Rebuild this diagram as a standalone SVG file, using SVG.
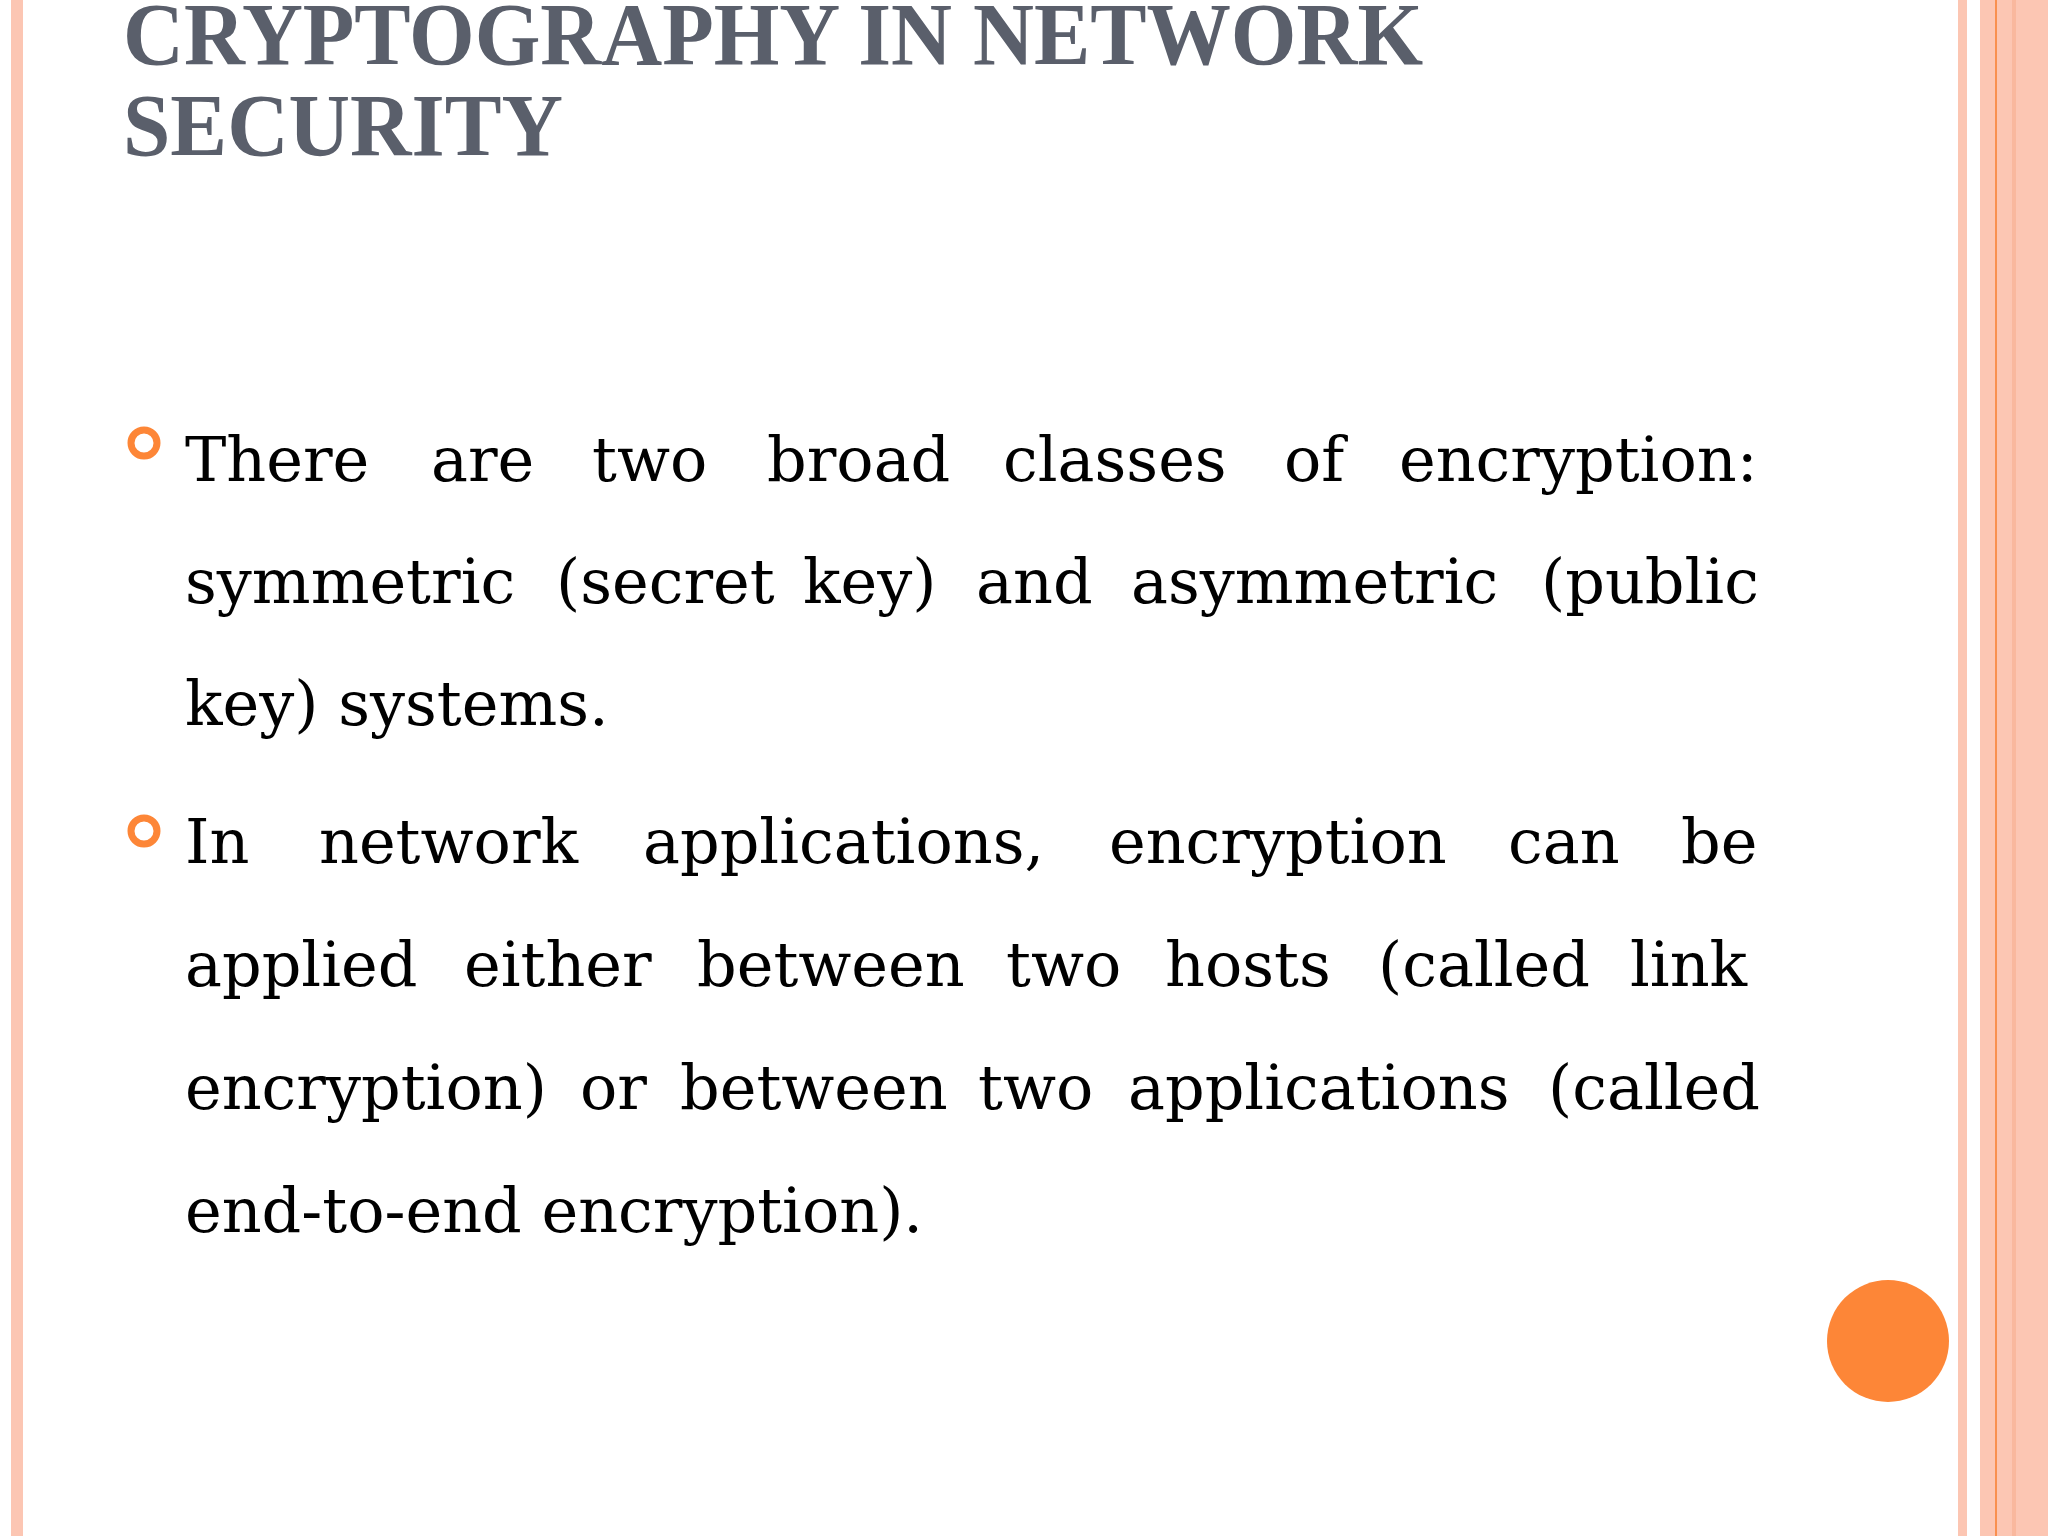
<svg xmlns="http://www.w3.org/2000/svg" width="2048" height="1536" viewBox="0 0 2048 1536">
<style>
.t{font-family:"Liberation Serif",serif;font-size:88px;font-weight:bold;fill:#5a5f6b}
.b{font-family:"DejaVu Serif",serif;font-size:62px;fill:#000}
.bul{fill:none;stroke:#fd8637;stroke-width:7}
</style>
<rect width="2048" height="1536" fill="#fff"/>
<rect x="11" y="0" width="12" height="1536" fill="#fcc6b3"/>
<rect x="1958" y="0" width="9" height="1536" fill="#fcc6b3"/>
<rect x="1980" y="0" width="68" height="1536" fill="#fcc6b3"/>
<rect x="2012" y="0" width="4" height="1536" fill="#f9b89e"/>
<rect x="1995" y="0" width="2" height="1536" fill="#f9904f"/>
<g id="title">
<text class="t" x="123" y="64" textLength="1300" lengthAdjust="spacingAndGlyphs">CRYPTOGRAPHY IN NETWORK</text>
<text class="t" x="123" y="155" textLength="440" lengthAdjust="spacingAndGlyphs">SECURITY</text>
</g>
<g id="bullet1">
<circle class="bul" cx="144" cy="443" r="13"/>
<text class="b" y="481"><tspan x="185">There</tspan><tspan x="431">are</tspan><tspan x="592">two</tspan><tspan x="767">broad</tspan><tspan x="1003">classes</tspan><tspan x="1284">of</tspan><tspan x="1399">encryption:</tspan></text>
<text class="b" y="603"><tspan x="185">symmetric</tspan><tspan x="556">(secret</tspan><tspan x="803">key)</tspan><tspan x="976">and</tspan><tspan x="1131">asymmetric</tspan><tspan x="1541">(public</tspan></text>
<text class="b" x="185" y="725">key) systems.</text>
</g>
<g id="bullet2">
<circle class="bul" cx="144" cy="831" r="13"/>
<text class="b" y="863"><tspan x="185">In</tspan><tspan x="319">network</tspan><tspan x="643">applications,</tspan><tspan x="1109">encryption</tspan><tspan x="1508">can</tspan><tspan x="1681">be</tspan></text>
<text class="b" y="986"><tspan x="185">applied</tspan><tspan x="464">either</tspan><tspan x="697">between</tspan><tspan x="1006">two</tspan><tspan x="1165">hosts</tspan><tspan x="1378">(called</tspan><tspan x="1630">link</tspan></text>
<text class="b" y="1109"><tspan x="185">encryption)</tspan><tspan x="580">or</tspan><tspan x="680">between</tspan><tspan x="978">two</tspan><tspan x="1128">applications</tspan><tspan x="1548">(called</tspan></text>
<text class="b" x="185" y="1232">end-to-end encryption).</text>
</g>
<circle cx="1888" cy="1341" r="61" fill="#fd8637"/>
</svg>
